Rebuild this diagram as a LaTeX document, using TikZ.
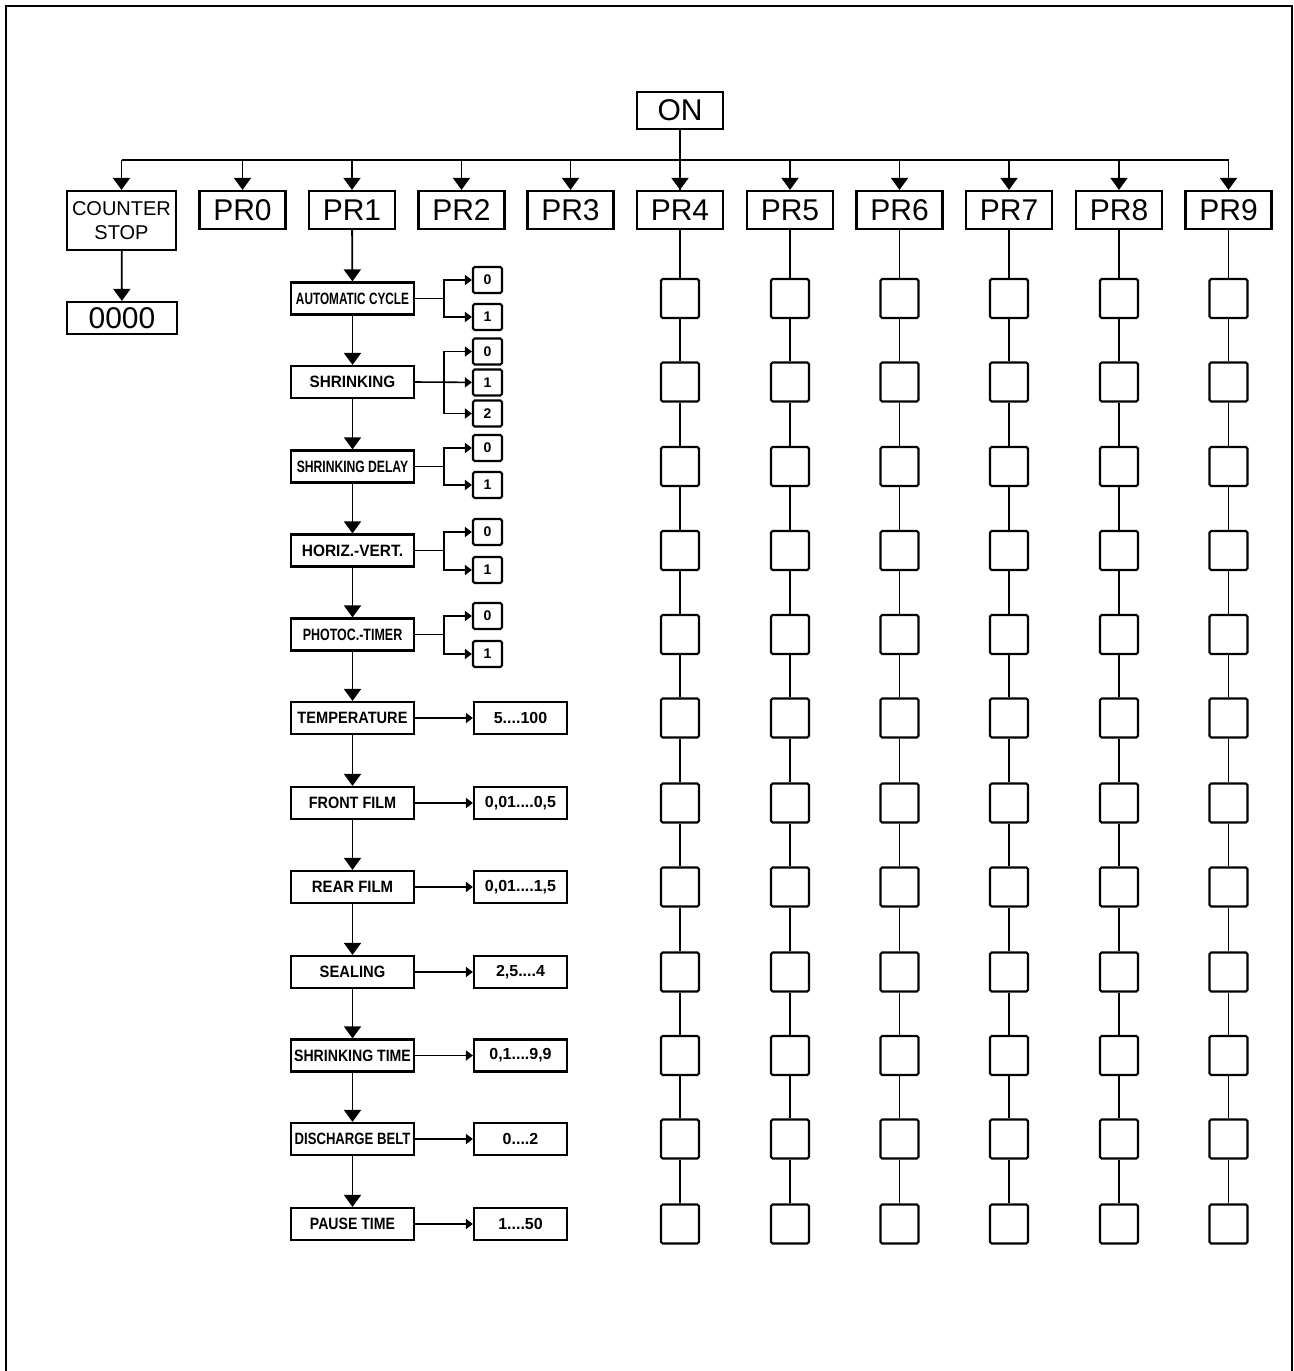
\documentclass[tikz,border=0pt]{standalone}
\usepackage{fontspec}
\setmainfont{Liberation Sans}
\usepackage{graphicx}
\usetikzlibrary{arrows.meta}
\newcommand\sx[2]{\scalebox{#1}[1]{#2}}
\begin{document}
\begin{tikzpicture}[x=0.5pt,y=-0.5pt,
  box/.style={draw,line width=1.1pt,inner sep=0pt,align=center},
  prbox/.style={box,minimum width=43pt,minimum height=19pt,font=\fontsize{15}{15}\selectfont},
  item/.style={box,minimum width=61.5pt,minimum height=16pt,font=\bfseries\fontsize{8.2}{8.2}\selectfont},
  choice/.style={box,rounded corners=0.8pt,minimum width=14.5pt,minimum height=13pt,font=\bfseries\fontsize{7}{7}\selectfont},
  valbox/.style={box,minimum width=46.5pt,minimum height=16pt,font=\bfseries\fontsize{8}{8}\selectfont},
  sq/.style={box,rounded corners=0.8pt,minimum width=19pt,minimum height=19.5pt},
  big/.style={line width=0.9pt,-{Triangle[length=6pt,width=8.5pt]}},
  small/.style={line width=0.8pt,-{Triangle[length=3.5pt,width=5pt]}},
  link/.style={line width=0.7pt},
]
\useasboundingbox (0,0) rectangle (1294,1371);
\draw[line width=1.2pt] (6,1371) -- (6,6) -- (1292,6) -- (1292,1371);

% top
\node[prbox,minimum height=18.5pt] (on) at (680,110.5) {ON};
\node[box,minimum width=54.5pt,minimum height=29.5pt,font=\fontsize{10}{12}\selectfont] (cs) at (121.5,220.5) {COUNTER\\STOP};
\node[box,minimum width=55pt,minimum height=16pt,font=\fontsize{15}{15}\selectfont] (zero) at (122,318) {0000};
\node[prbox] (pr0) at (242.5,210) {PR0};
\node[prbox] (pr1) at (352,210) {PR1};
\node[prbox] (pr2) at (461.5,210) {PR2};
\node[prbox] (pr3) at (570.5,210) {PR3};
\node[prbox] (pr4) at (680,210) {PR4};
\node[prbox] (pr5) at (790,210) {PR5};
\node[prbox] (pr6) at (899.5,210) {PR6};
\node[prbox] (pr7) at (1009,210) {PR7};
\node[prbox] (pr8) at (1119,210) {PR8};
\node[prbox] (pr9) at (1228.5,210) {PR9};

\coordinate (busL) at (121.5,160);
\coordinate (busR) at (1228.5,160);
\draw[link] (busL) -- (busR);
\draw[link] (on) -- (pr4);
\draw[big] (pr4.north |- busL) -- (pr4);
\foreach \n in {cs,pr0,pr1,pr2,pr3,pr5,pr6,pr7,pr8,pr9}
  \draw[big] (\n.north |- busL) -- (\n);
\draw[big] (cs) -- (zero);

% PR1 items
\node[item] (it1) at (352.5,298.5) {\sx{0.72}{AUTOMATIC CYCLE}};
\node[item] (it2) at (352.5,382) {\sx{0.93}{SHRINKING}};
\node[item] (it3) at (352.5,466.5) {\sx{0.74}{SHRINKING DELAY}};
\node[item] (it4) at (352.5,550.5) {\sx{0.94}{HORIZ.-VERT.}};
\node[item] (it5) at (352.5,634.5) {\sx{0.76}{PHOTOC.-TIMER}};
\node[item] (it6) at (352.5,718) {\sx{0.89}{TEMPERATURE}};
\node[item] (it7) at (352.5,803) {\sx{0.88}{FRONT FILM}};
\node[item] (it8) at (352.5,887) {\sx{0.91}{REAR FILM}};
\node[item] (it9) at (352.5,972) {\sx{0.90}{SEALING}};
\node[item] (it10) at (352.5,1055.5) {\sx{0.86}{SHRINKING TIME}};
\node[item] (it11) at (352.5,1139) {\sx{0.80}{DISCHARGE BELT}};
\node[item] (it12) at (352.5,1224) {\sx{0.86}{PAUSE TIME}};

\draw[big] (pr1) -- (it1);
\foreach \a/\b in {1/2,2/3,3/4,4/5,5/6,6/7,7/8,8/9,9/10,10/11,11/12}
  \draw[big] (it\a) -- (it\b);

% choices
\node[choice] (c1a) at (487.5,280) {0};
\node[choice] (c1b) at (487.5,317) {1};
\node[choice] (c2a) at (487.5,351.5) {0};
\node[choice] (c2b) at (487.5,382.5) {1};
\node[choice] (c2c) at (487.5,413.5) {2};
\node[choice] (c3a) at (487.5,448) {0};
\node[choice] (c3b) at (487.5,485) {1};
\node[choice] (c4a) at (487.5,532) {0};
\node[choice] (c4b) at (487.5,570) {1};
\node[choice] (c5a) at (487.5,616) {0};
\node[choice] (c5b) at (487.5,654) {1};

\foreach \i in {1,3,4,5}{
  \draw[small] (it\i.east) -- ++(29,0) |- (c\i a);
  \draw[small] (it\i.east) -- ++(29,0) |- (c\i b);
}
\draw[small] (it2.east) -- (c2b);
\draw[small] (it2.east) ++(29,0) |- (c2a);
\draw[small] (it2.east) ++(29,0) |- (c2c);

% values
\node[valbox] (v6) at (520.5,718) {5....100};
\node[valbox] (v7) at (520.5,803) {0,01....0,5};
\node[valbox] (v8) at (520.5,887) {0,01....1,5};
\node[valbox] (v9) at (520.5,972) {2,5....4};
\node[valbox] (v10) at (520.5,1055.5) {0,1....9,9};
\node[valbox] (v11) at (520.5,1139) {0....2};
\node[valbox] (v12) at (520.5,1224) {1....50};
\foreach \i in {6,...,12}
  \draw[small] (it\i) -- (v\i);

% squares
\foreach \c/\x in {4/680,5/790,6/899.5,7/1009,8/1119,9/1228.5}{
  \foreach \r/\y in {1/298.5,2/382,3/466.5,4/550.5,5/634.5,6/718,7/803,8/887,9/972,10/1055.5,11/1139,12/1224}
    \node[sq] (sq-\c-\r) at (\x,\y) {};
  \draw[link] (pr\c) -- (sq-\c-1);
  \foreach \a/\b in {1/2,2/3,3/4,4/5,5/6,6/7,7/8,8/9,9/10,10/11,11/12}
    \draw[link] (sq-\c-\a) -- (sq-\c-\b);
}
\end{tikzpicture}
\end{document}
